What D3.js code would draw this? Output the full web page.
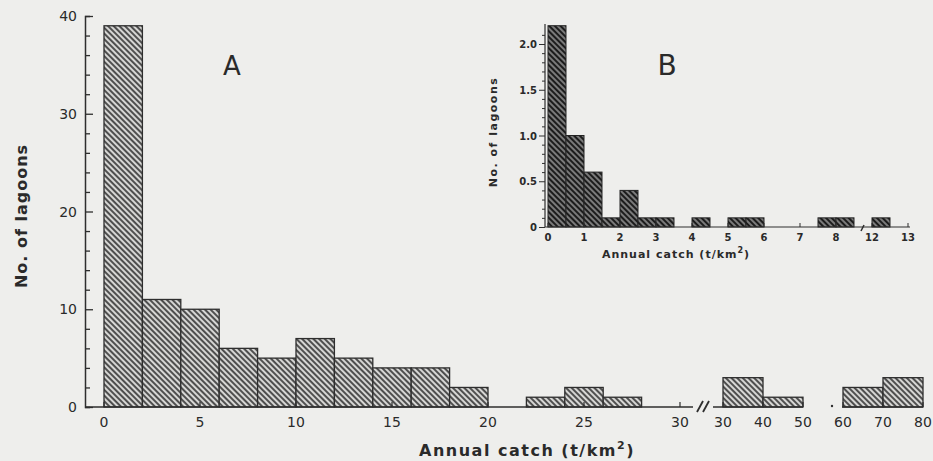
<!DOCTYPE html>
<html>
<head>
    <title>Annual catch histogram</title>
    <script src="https://d3js.org/d3.v7.min.js"></script>
    <style>
        html, body {
            margin: 0;
            padding: 0;
            background-color: #eeeeec;
        }
        svg text {
            font-family: "DejaVu Sans", sans-serif;
            fill: #2a2a2a;
        }
    </style>
</head>
<body>
<div id="chart"></div>
<script>
    // ---- data: panel A (bin start, count) ----
    const binsA1 = [0, 2, 4, 6, 8, 10, 12, 14, 16, 18, 20, 22, 24, 26, 28];
    const countsA1 = [39, 11, 10, 6, 5, 7, 5, 4, 4, 2, 0, 1, 2, 1, 0];
    const binsA2 = [30, 40];
    const countsA2 = [3, 1];
    const binsA3 = [60, 70];
    const countsA3 = [2, 3];
    const ticksA1 = [0, 5, 10, 15, 20, 25, 30];
    const ticksA2 = [30, 40, 50];
    const ticksA3 = [60, 70, 80];
    const yTicksA = [0, 10, 20, 30, 40];

    // ---- data: panel B inset (bin start, value) ----
    const binsB1 = [0, 0.5, 1.0, 1.5, 2.0, 2.5, 3.0, 3.5, 4.0, 4.5, 5.0, 5.5, 6.0, 6.5, 7.0, 7.5, 8.0];
    const valuesB1 = [2.2, 1.0, 0.6, 0.1, 0.4, 0.1, 0.1, 0, 0.1, 0, 0.1, 0.1, 0, 0, 0, 0.1, 0.1];
    const binsB2 = [12.0];
    const valuesB2 = [0.1];
    const ticksB1 = [0, 1, 2, 3, 4, 5, 6, 7, 8];
    const ticksB2 = [12, 13];
    const yTicksB = [0, 0.5, 1.0, 1.5, 2.0];

    const width = 933;
    const height = 461;

    const svg = d3.select("#chart")
        .append("svg")
        .attr("width", width)
        .attr("height", height);

    // hatch patterns
    const defs = svg.append("defs");
    function hatch(id, bg, stroke, sw, gap) {
        const p = defs.append("pattern")
            .attr("id", id)
            .attr("patternUnits", "userSpaceOnUse")
            .attr("width", gap)
            .attr("height", gap)
            .attr("patternTransform", "rotate(-45)");
        p.append("rect").attr("width", gap).attr("height", gap).attr("fill", bg);
        p.append("line")
            .attr("x1", gap / 2).attr("y1", 0)
            .attr("x2", gap / 2).attr("y2", gap)
            .attr("stroke", stroke)
            .attr("stroke-width", sw);
    }
    hatch("hatchA", "#d6d6d4", "#404040", 1.8, 4);
    hatch("hatchB", "#a2a2a2", "#1c1c1c", 2.6, 4);

    const ink = "#2e2e2e";

    // ================= panel A =================
    const yA = d3.scaleLinear().domain([0, 40]).range([407, 16]);
    const xA1 = d3.scaleLinear().domain([0, 30]).range([104, 680]);
    const xA2 = d3.scaleLinear().domain([30, 50]).range([723, 803]);
    const xA3 = d3.scaleLinear().domain([60, 80]).range([843, 923]);

    function barsA(xs, bins, counts, w) {
        svg.append("g")
            .selectAll("rect")
            .data(bins.map((b, i) => ({ x0: b, x1: b + w, v: counts[i] })).filter(d => d.v > 0))
            .enter()
            .append("rect")
            .attr("x", d => xs(d.x0))
            .attr("y", d => yA(d.v))
            .attr("width", d => xs(d.x1) - xs(d.x0))
            .attr("height", d => yA(0) - yA(d.v))
            .attr("fill", "url(#hatchA)")
            .attr("stroke", ink)
            .attr("stroke-width", 1.3);
    }
    barsA(xA1, binsA1, countsA1, 2);
    barsA(xA2, binsA2, countsA2, 10);
    barsA(xA3, binsA3, countsA3, 10);

    // y axis A (ticks pointing inward)
    const gyA = svg.append("g").attr("transform", "translate(85,0)");
    gyA.call(d3.axisRight(yA).tickValues(d3.range(0, 41, 2)).tickSize(5).tickFormat(""));
    gyA.call(g => g.selectAll(".tick line").attr("stroke", ink).attr("stroke-width", 1.3));
    gyA.select(".domain").attr("stroke", ink).attr("stroke-width", 1.5);
    gyA.selectAll(".tick")
        .filter(d => d % 10 === 0)
        .select("line").attr("x2", 8);
    svg.append("g")
        .selectAll("text")
        .data(yTicksA)
        .enter()
        .append("text")
        .attr("x", 77)
        .attr("y", d => yA(d) + 5)
        .attr("text-anchor", "end")
        .style("font-size", "14px")
        .text(d => d);

    // x axis A, three pieces with breaks
    function xAxisA(xs, ticks, from, to) {
        svg.append("line")
            .attr("x1", from).attr("x2", to)
            .attr("y1", yA(0)).attr("y2", yA(0))
            .attr("stroke", ink).attr("stroke-width", 1.5);
        svg.append("g")
            .selectAll("line")
            .data(ticks)
            .enter()
            .append("line")
            .attr("x1", d => xs(d)).attr("x2", d => xs(d))
            .attr("y1", yA(0)).attr("y2", yA(0) - 5)
            .attr("stroke", ink).attr("stroke-width", 1.2);
        svg.append("g")
            .selectAll("text")
            .data(ticks)
            .enter()
            .append("text")
            .attr("x", d => xs(d))
            .attr("y", 427)
            .attr("text-anchor", "middle")
            .style("font-size", "14px")
            .text(d => d);
    }
    xAxisA(xA1, ticksA1, 85, 693);
    xAxisA(xA2, ticksA2, 713, 803);
    xAxisA(xA3, ticksA3, 842, 923);

    // break marks "//"
    [697, 703].forEach(bx => {
        svg.append("line")
            .attr("x1", bx).attr("y1", 412)
            .attr("x2", bx + 6).attr("y2", 401)
            .attr("stroke", ink).attr("stroke-width", 1.8);
    });
    svg.append("circle").attr("cx", 832).attr("cy", 406).attr("r", 1.2).attr("fill", ink);

    svg.append("text")
        .attr("x", 232)
        .attr("y", 75)
        .attr("text-anchor", "middle")
        .style("font-size", "26px")
        .text("A");

    svg.append("text")
        .attr("transform", "translate(27,216) rotate(-90)")
        .attr("text-anchor", "middle")
        .style("font-size", "16px")
        .style("font-weight", "bold")
        .style("letter-spacing", "1px")
        .text("No. of lagoons");

    const xt = svg.append("text")
        .attr("x", 527)
        .attr("y", 456)
        .attr("text-anchor", "middle")
        .style("font-size", "16px")
        .style("font-weight", "bold")
        .style("letter-spacing", "1.5px");
    xt.append("tspan").text("Annual catch (t/km");
    xt.append("tspan").attr("dy", -7).style("font-size", "11px").text("2");
    xt.append("tspan").attr("dy", 7).text(")");

    // ================= panel B (inset) =================
    const yB = d3.scaleLinear().domain([0, 2]).range([227, 44]);
    const xB1 = d3.scaleLinear().domain([0, 8.5]).range([548, 854]);
    const xB2 = d3.scaleLinear().domain([12, 13]).range([872, 908]);

    function barsB(xs, bins, values) {
        svg.append("g")
            .selectAll("rect")
            .data(bins.map((b, i) => ({ x0: b, x1: b + 0.5, v: values[i] })).filter(d => d.v > 0))
            .enter()
            .append("rect")
            .attr("x", d => xs(d.x0))
            .attr("y", d => yB(d.v))
            .attr("width", d => xs(d.x1) - xs(d.x0))
            .attr("height", d => yB(0) - yB(d.v))
            .attr("fill", "url(#hatchB)")
            .attr("stroke", "#222")
            .attr("stroke-width", 1);
    }
    barsB(xB1, binsB1, valuesB1);
    barsB(xB2, binsB2, valuesB2);

    const gyB = svg.append("g").attr("transform", "translate(545,0)");
    gyB.call(d3.axisLeft(yB).tickValues(d3.range(0, 22).map(i => i / 10)).tickSize(3).tickFormat(""));
    gyB.selectAll(".tick line").attr("stroke", ink).attr("stroke-width", 1);
    gyB.selectAll(".tick")
        .filter(d => Math.abs(d * 2 - Math.round(d * 2)) < 1e-6)
        .select("line").attr("x2", -6);
    gyB.select(".domain").attr("stroke", ink).attr("stroke-width", 1.2).attr("d", "M0,227V24");
    svg.append("g")
        .selectAll("text")
        .data(yTicksB)
        .enter()
        .append("text")
        .attr("x", 537)
        .attr("y", d => yB(d) + 4)
        .attr("text-anchor", "end")
        .style("font-size", "10px")
        .style("font-weight", "bold")
        .text(d => d === 0 ? "0" : d.toFixed(1));

    svg.append("line")
        .attr("x1", 545).attr("x2", 910)
        .attr("y1", yB(0)).attr("y2", yB(0))
        .attr("stroke", ink).attr("stroke-width", 1.2);
    function xTicksB(xs, ticks) {
        svg.append("g")
            .selectAll("line")
            .data(ticks)
            .enter()
            .append("line")
            .attr("x1", d => xs(d)).attr("x2", d => xs(d))
            .attr("y1", yB(0)).attr("y2", yB(0) - 4)
            .attr("stroke", ink);
        svg.append("g")
            .selectAll("text")
            .data(ticks)
            .enter()
            .append("text")
            .attr("x", d => xs(d))
            .attr("y", 241)
            .attr("text-anchor", "middle")
            .style("font-size", "10px")
            .style("font-weight", "bold")
            .text(d => d);
    }
    xTicksB(xB1, ticksB1);
    xTicksB(xB2, ticksB2);
    svg.append("line")
        .attr("x1", 861).attr("y1", 231)
        .attr("x2", 864).attr("y2", 225)
        .attr("stroke", ink).attr("stroke-width", 1.5);

    svg.append("text")
        .attr("x", 667)
        .attr("y", 75)
        .attr("text-anchor", "middle")
        .style("font-size", "28px")
        .text("B");

    svg.append("text")
        .attr("transform", "translate(497,132) rotate(-90)")
        .attr("text-anchor", "middle")
        .style("font-size", "11px")
        .style("font-weight", "bold")
        .style("letter-spacing", "1.5px")
        .text("No. of lagoons");

    const xtB = svg.append("text")
        .attr("x", 676)
        .attr("y", 258)
        .attr("text-anchor", "middle")
        .style("font-size", "11px")
        .style("font-weight", "bold")
        .style("letter-spacing", "1px");
    xtB.append("tspan").text("Annual catch (t/km");
    xtB.append("tspan").attr("dy", -5).style("font-size", "8px").text("2");
    xtB.append("tspan").attr("dy", 5).text(")");
</script>
</body>
</html>
